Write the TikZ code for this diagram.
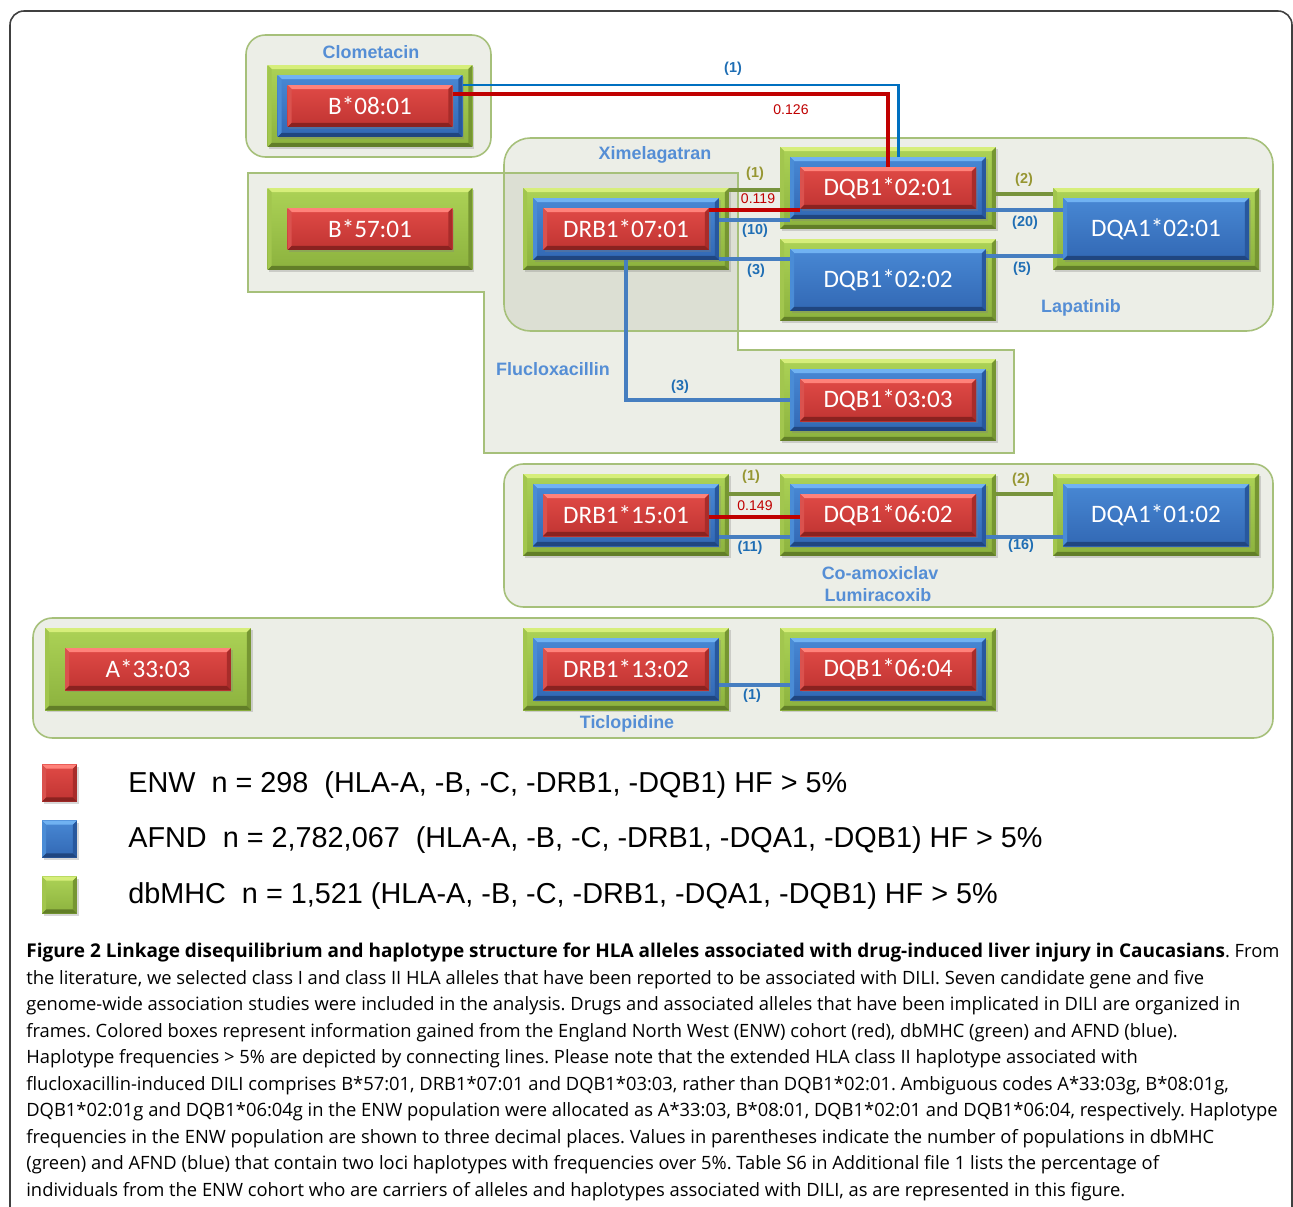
\documentclass[tikz,border=0pt]{standalone}
\usepackage{fontspec}
\setmainfont{Open Sans}
\newfontfamily\boxfont{Carlito}
\newfontfamily\arialfont{Liberation Sans}
\usetikzlibrary{shadows}

% box colours: g = dbMHC, b = AFND, r = ENW
\definecolor{gFaceA}{RGB}{172,210,86}
\definecolor{gFaceB}{RGB}{140,178,62}
\definecolor{gTop}{RGB}{214,238,122}
\definecolor{gSide}{RGB}{162,198,78}
\definecolor{gSideB}{RGB}{118,150,50}
\definecolor{gBot}{RGB}{98,126,40}
\definecolor{bFaceA}{RGB}{72,136,212}
\definecolor{bFaceB}{RGB}{50,104,180}
\definecolor{bTop}{RGB}{112,178,242}
\definecolor{bSide}{RGB}{74,140,214}
\definecolor{bSideB}{RGB}{40,88,158}
\definecolor{bBot}{RGB}{32,70,128}
\definecolor{rFaceA}{RGB}{224,74,70}
\definecolor{rFaceB}{RGB}{192,52,50}
\definecolor{rTop}{RGB}{255,130,122}
\definecolor{rSide}{RGB}{218,82,78}
\definecolor{rSideB}{RGB}{168,44,42}
\definecolor{rBot}{RGB}{138,34,32}
% frames and links
\definecolor{frametint}{RGB}{140,150,110}
\definecolor{frameline}{RGB}{166,192,122}
\definecolor{druglblue}{RGB}{85,142,213}
\definecolor{linkred}{RGB}{192,0,0}
\definecolor{linkblue}{RGB}{70,126,192}
\definecolor{linkbluetop}{RGB}{0,112,192}
\definecolor{linkgreen}{RGB}{119,147,60}
\definecolor{lblblue}{RGB}{31,110,180}
\definecolor{lblolive}{RGB}{150,150,50}

\tikzset{
  allele/.style={rectangle, inner sep=0pt, draw=none,
    drop shadow={opacity=0.3, shadow xshift=1pt, shadow yshift=-1.2pt},
    path picture={
      \coordinate (pnw) at (path picture bounding box.north west);
      \coordinate (pne) at (path picture bounding box.north east);
      \coordinate (pse) at (path picture bounding box.south east);
      \coordinate (psw) at (path picture bounding box.south west);
      \shade[top color=#1FaceA, bottom color=#1FaceB] (pnw) rectangle (pse);
      \fill[#1Top] (pnw) -- (pne) -- ([shift={(-2.3pt,-2.3pt)}]pne) -- ([shift={(2.3pt,-2.3pt)}]pnw) -- cycle;
      \fill[#1Side] (pnw) -- ([shift={(2.3pt,-2.3pt)}]pnw) -- ([shift={(2.3pt,2.3pt)}]psw) -- (psw) -- cycle;
      \fill[#1SideB] (pne) -- (pse) -- ([shift={(-2.3pt,2.3pt)}]pse) -- ([shift={(-2.3pt,-2.3pt)}]pne) -- cycle;
      \fill[#1Bot] (psw) -- (pse) -- ([shift={(-2.3pt,2.3pt)}]pse) -- ([shift={(2.3pt,2.3pt)}]psw) -- cycle;
    }},
  greenbox/.style={allele=g, minimum width=4.12cm, minimum height=1.64cm},
  bluebox/.style={allele=b, minimum width=3.72cm, minimum height=1.24cm,
    text=white, font=\boxfont\fontsize{14.3}{14}\selectfont},
  redbox/.style={allele=r, minimum width=3.32cm, minimum height=0.84cm,
    text=white, font=\boxfont\fontsize{14.3}{14}\selectfont},
  wide/.style={minimum width=#1cm},
  keybox/.style={allele=#1, minimum width=0.7cm, minimum height=0.74cm},
  framefill/.style={fill=frametint, fill opacity=0.16},
  framedraw/.style={draw=frameline, line width=0.9pt},
  druglbl/.style={text=druglblue, font=\arialfont\bfseries\fontsize{10.2}{12}\selectfont, inner sep=0pt},
  redlink/.style={draw=linkred, line width=1.9pt},
  bluelink/.style={draw=linkblue, line width=1.8pt},
  greenlink/.style={draw=linkgreen, line width=1.9pt},
  numblue/.style={text=lblblue, font=\arialfont\bfseries\fontsize{8.2}{9}\selectfont, inner sep=0pt},
  numolive/.style={text=lblolive, font=\arialfont\bfseries\fontsize{8.2}{9}\selectfont, inner sep=0pt},
  numred/.style={text=linkred, font=\arialfont\fontsize{8}{9}\selectfont, inner sep=0pt},
  keytext/.style={anchor=west, inner sep=0pt, font=\arialfont\fontsize{16.4}{18}\selectfont},
}

\begin{document}
\begin{tikzpicture}[x=0.02cm, y=-0.02cm]
\useasboundingbox (0,0) rectangle (1293,1206);
\fill[white] (0,0) rectangle (1293,1206);
% figure frame
\draw[black!75, line width=0.9pt, rounded corners=8pt] (10,1230) -- (10,11) -- (1292,11) -- (1292,1230);

% drug frames
\fill[framefill, rounded corners=11pt] (246,35) rectangle (491,157);
\fill[framefill] (248,173) -- (738,173) -- (738,350) -- (1014,350) -- (1014,453) -- (484,453) -- (484,292) -- (248,292) -- cycle;
\fill[framefill, rounded corners=15pt] (504,138) rectangle (1273,331);
\fill[framefill, rounded corners=11pt] (504,464) rectangle (1273,607);
\fill[framefill, rounded corners=11pt] (33,618) rectangle (1273,738);
\draw[framedraw, rounded corners=11pt] (246,35) rectangle (491,157);
\draw[framedraw] (248,173) -- (738,173) -- (738,350) -- (1014,350) -- (1014,453) -- (484,453) -- (484,292) -- (248,292) -- cycle;
\draw[framedraw, rounded corners=15pt] (504,138) rectangle (1273,331);
\draw[framedraw, rounded corners=11pt] (504,464) rectangle (1273,607);
\draw[framedraw, rounded corners=11pt] (33,618) rectangle (1273,738);

\node[druglbl] (clom) at (371,52) {Clometacin};
\node[druglbl] (xime) at (655,155) {Ximelagatran};
\node[druglbl] (lapa) at (1081,308) {Lapatinib};
\node[druglbl] (fluc) at (553,369) {Flucloxacillin};
\node[druglbl] (coam) at (880,573) {Co-amoxiclav};
\node[druglbl] (lumi) at (878,595) {Lumiracoxib};
\node[druglbl] (ticl) at (627,724) {Ticlopidine};

% alleles
\node[greenbox, wide=4.1] (b0801g) at (370,106) {};
\node[bluebox, wide=3.7] (b0801b) at (b0801g) {};
\node[redbox, wide=3.3] (b0801r) at (b0801g) {B*08:01};

\node[greenbox, wide=4.1] (b5701g) at (370,229) {};
\node[redbox, wide=3.3] (b5701r) at (b5701g) {B*57:01};

\node[greenbox] (x0701g) at (626,229) {};
\node[bluebox] (x0701b) at (x0701g) {};
\node[redbox] (x0701r) at (x0701g) {DRB1*07:01};

\node[greenbox, wide=4.32] (q0201g) at (888,188) {};
\node[bluebox, wide=3.92] (q0201b) at (q0201g) {};
\node[redbox, wide=3.52] (q0201r) at (q0201g) {DQB1*02:01};

\node[greenbox, wide=4.32] (q0202g) at (888,280) {};
\node[bluebox, wide=3.92] (q0202b) at (q0202g) {DQB1*02:02};

\node[greenbox] (a0201g) at (1156,229) {};
\node[bluebox] (a0201b) at (a0201g) {DQA1*02:01};

\node[greenbox, wide=4.32] (q0303g) at (888,400) {};
\node[bluebox, wide=3.92] (q0303b) at (q0303g) {};
\node[redbox, wide=3.52] (q0303r) at (q0303g) {DQB1*03:03};

\node[greenbox] (r1501g) at (626,515) {};
\node[bluebox] (r1501b) at (r1501g) {};
\node[redbox] (r1501r) at (r1501g) {DRB1*15:01};

\node[greenbox, wide=4.32] (q0602g) at (888,515) {};
\node[bluebox, wide=3.92] (q0602b) at (q0602g) {};
\node[redbox, wide=3.52] (q0602r) at (q0602g) {DQB1*06:02};

\node[greenbox] (a0102g) at (1156,515) {};
\node[bluebox] (a0102b) at (a0102g) {DQA1*01:02};

\node[greenbox] (a3303g) at (148,669) {};
\node[redbox] (a3303r) at (a3303g) {A*33:03};

\node[greenbox] (r1302g) at (626,669) {};
\node[bluebox] (r1302b) at (r1302g) {};
\node[redbox] (r1302r) at (r1302g) {DRB1*13:02};

\node[greenbox, wide=4.32] (q0604g) at (888,669) {};
\node[bluebox, wide=3.92] (q0604b) at (q0604g) {};
\node[redbox, wide=3.52] (q0604r) at (q0604g) {DQB1*06:04};

% haplotype links
\draw[linkbluetop, line width=1.7pt] (b0801b.east |- 0,85) -| ([shift={(10,0)}]q0201b.north);
\draw[redlink] (b0801r.east |- 0,94) -| (q0201r.north);
\draw[greenlink] (x0701g.east |- 0,190) -- (q0201g.west |- 0,190);
\draw[redlink] (x0701r.east |- 0,210) -- (q0201r.west |- 0,210);
\draw[bluelink] (x0701b.east |- 0,220) -- (q0201b.west |- 0,220);
\draw[bluelink] (x0701b.east |- 0,259) -- (q0202b.west |- 0,259);
\draw[greenlink] (q0201g.east |- 0,194) -- (a0201g.west |- 0,194);
\draw[bluelink] (q0201b.east |- 0,210) -- (a0201b.west |- 0,210);
\draw[bluelink] (q0202b.east |- 0,256) -- (a0201b.west |- 0,256);
\draw[bluelink] (x0701b.south) |- (q0303b.west);
\draw[greenlink] (r1501g.east |- 0,494) -- (q0602g.west |- 0,494);
\draw[redlink] (r1501r.east |- 0,517) -- (q0602r.west |- 0,517);
\draw[bluelink] (r1501b.east |- 0,537) -- (q0602b.west |- 0,537);
\draw[greenlink] (q0602g.east |- 0,494) -- (a0102g.west |- 0,494);
\draw[bluelink] (q0602b.east |- 0,537) -- (a0102b.west |- 0,537);
\draw[bluelink] (r1302b.east |- 0,685) -- (q0604b.west |- 0,685);

% link labels
\node[numblue] (l1) at (733,69) {(1)};
\node[numred] (l2) at (791,110) {0.126};
\node[numolive] (l3) at (755,174) {(1)};
\node[numred] (l4) at (758,199) {0.119};
\node[numblue] (l5) at (755,231) {(10)};
\node[numblue] (l6) at (756,271) {(3)};
\node[numolive] (l7) at (1024,180) {(2)};
\node[numblue] (l8) at (1025,223) {(20)};
\node[numblue] (l9) at (1022,269) {(5)};
\node[numblue] (l10) at (680,387) {(3)};
\node[numolive] (l11) at (751,477) {(1)};
\node[numred] (l12) at (755,506) {0.149};
\node[numblue] (l13) at (750,548) {(11)};
\node[numolive] (l14) at (1021,480) {(2)};
\node[numblue] (l15) at (1021,546) {(16)};
\node[numblue] (l16) at (752,696) {(1)};

% key
\node[keybox=r] (keyr) at (59.5,783) {};
\node[keybox=b] (keyb) at (59.5,839) {};
\node[keybox=g] (keyg) at (59.5,895) {};
\node[keytext] (keyrt) at (128,785) {ENW\ \ n = 298\ \ (HLA-A, -B, -C, -DRB1, -DQB1) HF > 5\%};
\node[keytext] (keybt) at (128,840) {AFND\ \ n = 2,782,067\ \ (HLA-A, -B, -C, -DRB1, -DQA1, -DQB1) HF > 5\%};
\node[keytext] (keygt) at (128,896) {dbMHC\ \ n = 1,521 (HLA-A, -B, -C, -DRB1, -DQA1, -DQB1) HF > 5\%};

% caption
\node[anchor=north west, align=left, inner sep=0pt, font=\frenchspacing\fontsize{10.45}{15.06}\selectfont] (capt) at (26,943) {%
{\fontsize{10.8}{15.06}\selectfont\bfseries Figure 2 Linkage disequilibrium and haplotype structure for HLA alleles associated with drug-induced liver injury in Caucasians}. From\\
the literature, we selected class I and class II HLA alleles that have been reported to be associated with DILI. Seven candidate gene and five\\
genome-wide association studies were included in the analysis. Drugs and associated alleles that have been implicated in DILI are organized in\\
frames. Colored boxes represent information gained from the England North West (ENW) cohort (red), dbMHC (green) and AFND (blue).\\
Haplotype frequencies > 5\% are depicted by connecting lines. Please note that the extended HLA class II haplotype associated with\\
flucloxacillin-induced DILI comprises B*57:01, DRB1*07:01 and DQB1*03:03, rather than DQB1*02:01. Ambiguous codes A*33:03g, B*08:01g,\\
DQB1*02:01g and DQB1*06:04g in the ENW population were allocated as A*33:03, B*08:01, DQB1*02:01 and DQB1*06:04, respectively. Haplotype\\
frequencies in the ENW population are shown to three decimal places. Values in parentheses indicate the number of populations in dbMHC\\
(green) and AFND (blue) that contain two loci haplotypes with frequencies over 5\%. Table S6 in Additional file 1 lists the percentage of\\
individuals from the ENW cohort who are carriers of alleles and haplotypes associated with DILI, as are represented in this figure.};
\end{tikzpicture}
\end{document}
